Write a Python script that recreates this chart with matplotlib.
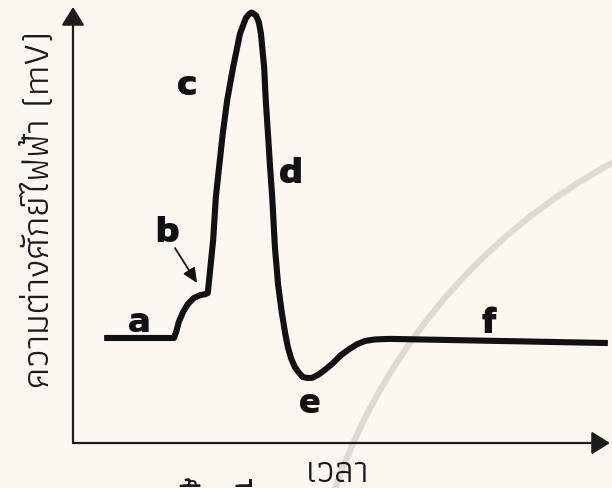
import matplotlib
matplotlib.use("Agg")
import matplotlib.pyplot as plt
from matplotlib.patches import Circle

# action potential trace, time in ms and membrane potential in mV
time_ms = [0.58, 1.88, 1.92, 1.97, 2.05, 2.14, 2.25, 2.37, 2.46, 2.51,
           2.61, 2.66, 2.72, 2.79, 2.87, 2.98, 3.11, 3.17, 3.22, 3.28, 3.32,
           3.35, 3.41, 3.46, 3.50, 3.56, 3.59, 3.63, 3.67, 3.71, 3.76, 3.82, 3.89, 3.95, 4.00,
           4.06, 4.13, 4.21, 4.28, 4.36, 4.45, 4.56, 4.69, 4.84, 4.99, 5.14, 5.29,
           5.44, 5.62, 5.90, 9.96]
voltage_mv = [-70, -70, -68.0, -64.6, -61.2, -58.5, -56.5, -55.5, -55.2, -54.8,
              -36.9, -22.4, -12.3, -0.8, 10.3, 21.4, 32.9, 35.8, 38.2, 39.5, 40.0,
              39.8, 39.0, 36.8, 32.9, 21.4, 10.3, -0.8, -12.3, -22.4, -39.3, -52.1, -61.6, -68.3, -73.0,
              -76.8, -79.8, -81.8, -83.2, -83.5, -83.5, -82.5, -80.8, -78.5, -75.8, -73.8, -72.1,
              -71.0, -70.5, -70.3, -71.7]

# phase letters and where they sit (baseline)
phase_labels = ["a", "b", "c", "d", "e", "f"]
phase_t = [1.23, 1.75, 2.12, 4.06, 4.41, 7.75]
phase_v = [-68.0, -37.6, 12.1, -17.6, -95.3, -68.3]

ylabel = "ความต่างศักย์ไฟฟ้า (mV)"
xlabel = "เวลา"
caption = "กระแส ขึ้นที่ถูก"

bg = "#fbf8f2"
ink = "#111111"
thai = ["Athiti", "DejaVu Sans"]

fig = plt.figure(figsize=(6.12, 4.88), dpi=100)
fig.patch.set_facecolor(bg)

# faint decorative arc behind the graph (pixel space)
deco = fig.add_axes([0, 0, 1, 1], zorder=0)
deco.set_xlim(0, 612)
deco.set_ylim(488, 0)
deco.axis("off")
deco.add_patch(Circle((895, 684), 593, fill=False, lw=4.5, color="#dedbd4"))

ax = fig.add_axes([73 / 612, 45 / 488, 537 / 612, 436 / 488], zorder=1)
ax.set_facecolor("none")
ax.set_xlim(0, 10.0)
ax.set_ylim(-105.5, 41.9)
for s in ax.spines.values():
    s.set_visible(False)
ax.set_xticks([])
ax.set_yticks([])

# axes drawn as arrows
arrow = dict(arrowstyle="-|>,head_length=0.8,head_width=0.5", mutation_scale=14,
             lw=1.6, color="#1c1c1c", shrinkA=0, shrinkB=0)
ax.annotate("", xy=(0, 1), xytext=(0, 0), xycoords="axes fraction", arrowprops=arrow)
ax.annotate("", xy=(1, 0), xytext=(0, 0), xycoords="axes fraction", arrowprops=arrow)

ax.plot(time_ms, voltage_mv, color=ink, lw=4.4, solid_joinstyle="round",
        solid_capstyle="butt", clip_on=False)

for lab, t, v in zip(phase_labels, phase_t, phase_v):
    ax.text(t, v, lab, ha="center", va="baseline", fontsize=28, fontweight="bold",
            family=["Kanit", "DejaVu Sans"], color=ink)

# pointer from "b" to the threshold hump
ax.annotate("", xy=(2.31, -51.4), xytext=(1.90, -39.6),
            arrowprops=dict(arrowstyle="-|>,head_length=0.55,head_width=0.25",
                            mutation_scale=16, lw=1.3, color=ink, shrinkA=0, shrinkB=0))

fig.text(49 / 612, 1 - 209 / 488, ylabel, rotation=90, rotation_mode="anchor",
         ha="center", va="baseline", fontsize=27, family=thai, color="#1a1a1a")
fig.text(338 / 612, 6 / 488, xlabel, ha="center", va="baseline", fontsize=27,
         family=thai, color="#1a1a1a")
# next line of the page, cut off by the bottom edge
fig.text(31 / 612, -29 / 488, caption, ha="left", va="baseline", fontsize=36,
         family=thai, color="#1a1a1a")

fig.savefig("out.png", facecolor=bg)
